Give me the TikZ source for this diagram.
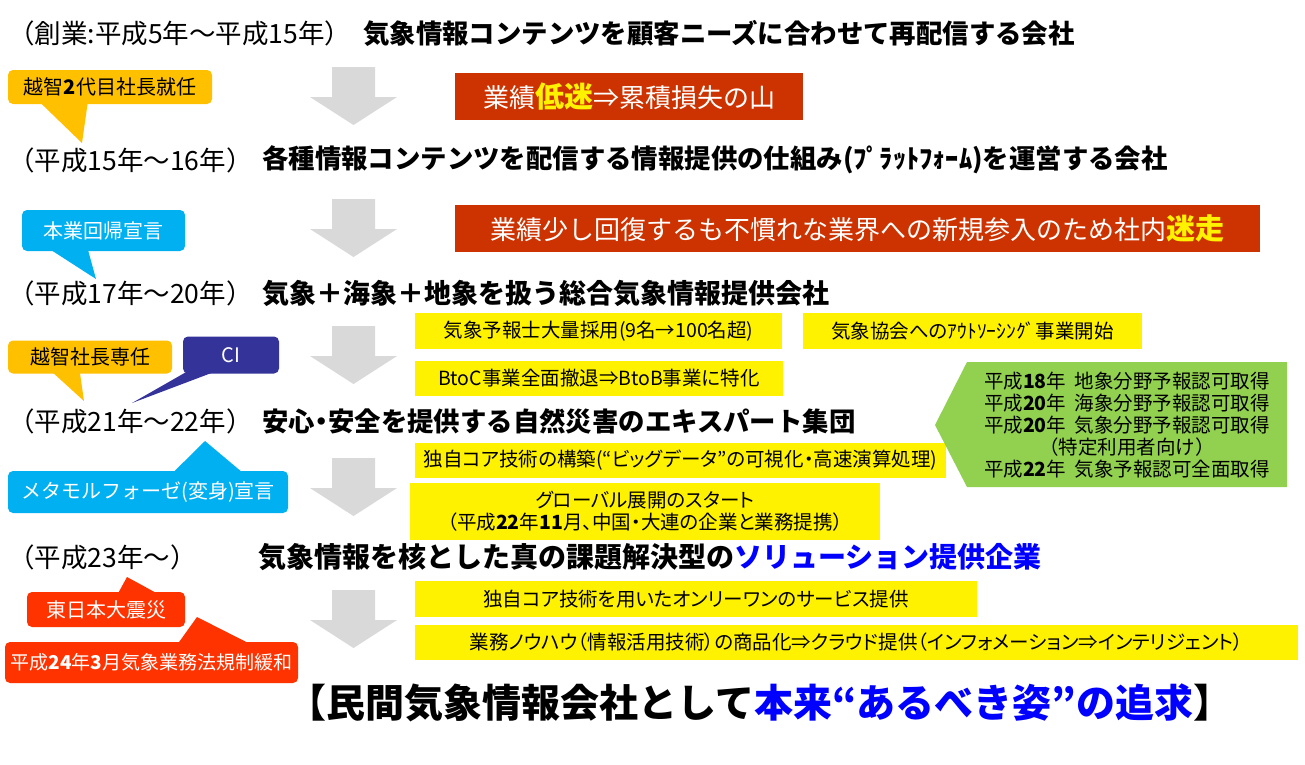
\documentclass[tikz,border=0pt]{standalone}
\usepackage{fontspec}
\setmainfont{Noto Sans CJK JP}
\newfontfamily\propjp[RawFeature=+palt]{Noto Sans CJK JP}
\definecolor{arrowgray}{RGB}{217,217,217}
\definecolor{lossred}{RGB}{204,51,0}
\definecolor{bubbleorange}{RGB}{255,192,0}
\definecolor{bubbleblue}{RGB}{0,176,240}
\definecolor{bubblenavy}{RGB}{51,51,153}
\definecolor{quakered}{RGB}{255,51,0}
\definecolor{licensegreen}{RGB}{146,208,80}
\definecolor{goalblue}{RGB}{0,0,255}
\newcommand\hilite[1]{{\fontsize{29}{30}\selectfont\bfseries\color{yellow}#1}}

\begin{document}
\begin{tikzpicture}[x=1pt, y=-1pt,
    every node/.style={inner sep=0pt},
    era/.style={anchor=west, font=\fontsize{26.5}{28}\selectfont},
    stage/.style={anchor=west, font=\fontsize{26.4}{30}\selectfont\bfseries},
    downarrow/.style={fill=arrowgray},
    lossbox/.style={fill=lossred, text=white, minimum height=47pt, font=\fontsize{26}{28}\selectfont},
    measure/.style={fill=yellow, align=center, font=\fontsize{19.5}{22}\selectfont\propjp},
    bubble/.style={rounded corners=5pt, align=center, font=\fontsize{20}{22}\selectfont}]
  \fill[white] (0,0) rectangle (1305,764);

  \node[era] (era1) at (8,33) {（創業:平成5年～平成15年）};
  \node[stage] (stage1) at (363,33) {気象情報コンテンツを顧客ニーズに合わせて再配信する会社};
  \node[era] (era2) at (8,160) {（平成15年～16年）};
  \node[stage] (stage2) at (262,160) {各種情報コンテンツを配信する情報提供の仕組み(ﾌﾟﾗｯﾄﾌｫｰﾑ)を運営する会社};
  \node[era] (era3) at (8,293) {（平成17年～20年）};
  \node[stage, font=\fontsize{27}{30}\selectfont\bfseries] (stage3) at (262,293) {気象＋海象＋地象を扱う総合気象情報提供会社};
  \node[era] (era4) at (8,421) {（平成21年～22年）};
  \node[stage] (stage4) at (262,421) {安心{\propjp ・}安全を提供する自然災害のエキスパート集団};
  \node[era] (era5) at (8,557) {（平成23年～）};
  \node[stage, font=\fontsize{28}{30}\selectfont\bfseries] (stage5) at (258,557)
    {気象情報を核とした真の課題解決型の\textcolor{goalblue}{ソリューション提供企業}};
  \node[font=\fontsize{39}{42}\selectfont\bfseries] (goal) at (760,703)
    {【民間気象情報会社として\textcolor{goalblue}{本来“あるべき姿”の追求}】};

  \foreach \y in {67,199,326,458,590}
    \fill[downarrow] (332,\y) -- (375,\y) -- (375,\y+30) -- (397,\y+30) -- (353.5,\y+58)
      -- (310,\y+30) -- (332,\y+30) -- cycle;

  \node[lossbox, minimum width=348pt] (slump) at (629,96.5) {業績\hilite{低迷}⇒累積損失の山};
  \node[lossbox, minimum width=805pt] (stray) at (857.5,228.5)
    {業績少し回復するも不慣れな業界への新規参入のため社内\hilite{迷走}};

  \node[measure, minimum width=367pt, minimum height=36pt] (hiring) at (598.5,331) {気象予報士大量採用(9名→100名超)};
  \node[measure, minimum width=339pt, minimum height=36pt] (outsource) at (972.5,331) {気象協会へのｱｳﾄｿｰｼﾝｸﾞ事業開始};
  \node[measure, minimum width=368pt, minimum height=35pt] (btob) at (599,378.5) {BtoC事業全面撤退⇒BtoB事業に特化};
  \node[measure, minimum width=531pt, minimum height=35pt] (coretech) at (680.5,460.5)
    {独自コア技術の構築(“ビッグデータ”の可視化・高速演算処理)};
  \node[measure, minimum width=470pt, minimum height=57pt] (global) at (645,511.5)
    {グローバル展開のスタート\\（平成\textbf{22}年\textbf{11}月、中国・大連の企業と業務提携）};
  \node[measure, minimum width=562pt, minimum height=36pt] (onlyone) at (696,599)
    {独自コア技術を用いたオンリーワンのサービス提供};
  \node[measure, minimum width=883pt, minimum height=35pt] (cloud) at (856.5,642.5)
    {業務ノウハウ（情報活用技術）の商品化⇒クラウド提供（インフォメーション⇒インテリジェント）};

  \fill[licensegreen] (967,362) -- (1287,362) -- (1287,487) -- (967,487) -- (935,425) -- cycle;
  \node[align=center, font=\fontsize{19.5}{22}\selectfont] (licenses) at (1127,425)
    {平成\textbf{18}年\ \ 地象分野予報認可取得\\平成\textbf{20}年\ \ 海象分野予報認可取得\\
     平成\textbf{20}年\ \ 気象分野予報認可取得\\（特定利用者向け）\\平成\textbf{22}年\ \ 気象予報認可全面取得};

  \node[bubble, fill=bubbleorange, minimum width=204pt, minimum height=34pt] (succession) at (110,87)
    {越智\textbf{2}代目社長就任};
  \fill[bubbleorange] ([xshift=32pt,yshift=2pt]succession.south west) -- (82,143)
    -- ([xshift=80pt,yshift=2pt]succession.south west) -- cycle;
  \node[bubble, fill=bubbleblue, text=white, minimum width=163pt, minimum height=41pt] (refocus) at (103.5,230.5)
    {本業回帰宣言};
  \fill[bubbleblue] ([xshift=28pt,yshift=2pt]refocus.south west) -- (96,279)
    -- ([xshift=66pt,yshift=2pt]refocus.south west) -- cycle;
  \node[bubble, fill=bubbleorange, minimum width=164pt, minimum height=33pt] (dedication) at (90,357)
    {越智社長専任};
  \fill[bubbleorange] ([xshift=44pt,yshift=2pt]dedication.south west) -- (84,401)
    -- ([xshift=72pt,yshift=2pt]dedication.south west) -- cycle;
  \node[bubble, fill=bubblenavy, text=white, minimum width=96pt, minimum height=37pt] (identity) at (231,355)
    {CI};
  \fill[bubblenavy] ([xshift=4pt,yshift=2pt]identity.south west) -- (132,403)
    -- ([xshift=32pt,yshift=2pt]identity.south west) -- cycle;
  \node[bubble, fill=bubbleblue, text=white, minimum width=280pt, minimum height=42pt] (metamorphosis) at (148,492)
    {メタモルフォーゼ(変身)宣言};
  \fill[bubbleblue] ([xshift=165pt,yshift=-2pt]metamorphosis.north west) -- (205,441)
    -- ([xshift=235pt,yshift=-2pt]metamorphosis.north west) -- cycle;
  \node[bubble, fill=quakered, text=white, minimum width=158pt, minimum height=35pt] (quake) at (106,609.5)
    {東日本大震災};
  \fill[quakered] ([xshift=91pt,yshift=-2pt]quake.north west) -- (127,577)
    -- ([xshift=131pt,yshift=-2pt]quake.north west) -- cycle;
  \node[bubble, fill=quakered, text=white, minimum width=293pt, minimum height=41pt,
    font=\fontsize{19}{22}\selectfont\propjp] (deregulation) at (151.5,662.5)
    {平成\textbf{24}年\textbf{3}月気象業務法規制緩和};
  \fill[quakered] ([xshift=173pt,yshift=-2pt]deregulation.north west) -- (197,617)
    -- ([xshift=245pt,yshift=-2pt]deregulation.north west) -- cycle;
\end{tikzpicture}
\end{document}
